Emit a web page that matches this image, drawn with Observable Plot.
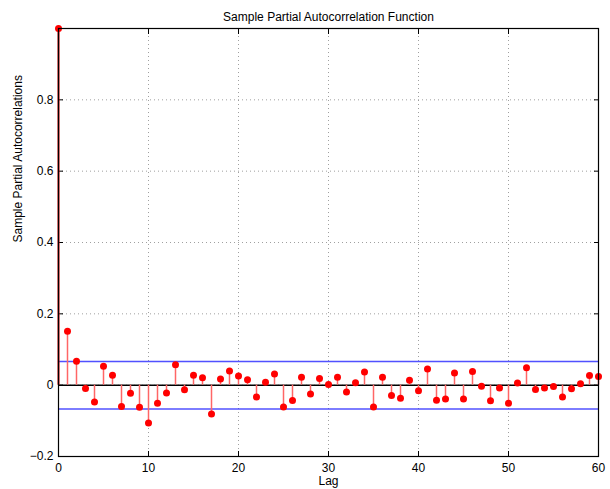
<!DOCTYPE html>
<html><head><meta charset="utf-8">
<script src="https://cdn.jsdelivr.net/npm/d3@7"></script>
<script src="https://cdn.jsdelivr.net/npm/@observablehq/plot@0.6"></script>
<style>
body{margin:0;background:#fff;font-family:"Liberation Sans",Arial,sans-serif;}
#chart{position:relative;width:610px;height:489px;}
</style></head><body><div id="chart"></div>
<script>
const title = "Sample Partial Autocorrelation Function";
const xLabel = "Lag";
const yLabel = "Sample Partial Autocorrelations";
const lags = d3.range(0, 61);
const pacf = [1.0,
  0.151, 0.067, -0.009, -0.047, 0.053, 0.028, -0.060, -0.023, -0.062, -0.106,
  -0.051, -0.022, 0.057, -0.013, 0.028, 0.021, -0.081, 0.017, 0.040, 0.026,
  0.015, -0.033, 0.008, 0.031, -0.061, -0.043, 0.022, -0.025, 0.019, 0.002,
  0.022, -0.019, 0.007, 0.037, -0.061, 0.022, -0.029, -0.037, 0.014, -0.016,
  0.045, -0.042, -0.039, 0.034, -0.039, 0.038, -0.003, -0.044, -0.008, -0.051,
  0.006, 0.049, -0.012, -0.008, -0.004, -0.033, -0.010, 0.004, 0.027, 0.024];
const bound = 0.0667;
const xTicks = [0, 10, 20, 30, 40, 50, 60];
const yTicks = [-0.2, 0, 0.2, 0.4, 0.6, 0.8];
const data = lags.map((l, i) => ({lag: l, v: pacf[i]}));

const chart = Plot.plot({
  width: 610, height: 489,
  marginLeft: 58, marginRight: 12, marginTop: 28, marginBottom: 33,
  style: {fontFamily: "Liberation Sans, Arial, sans-serif", fontSize: "11px", background: "#fff"},
  x: {domain: [0, 60], ticks: xTicks},
  y: {domain: [-0.2, 1], ticks: yTicks},
  marks: [
    Plot.gridX(xTicks.slice(1, -1), {stroke: "#888", strokeOpacity: 0.8, strokeDasharray: "1,3"}),
    Plot.gridY(yTicks.slice(1), {stroke: "#888", strokeOpacity: 0.8, strokeDasharray: "1,3"}),
    Plot.axisX(xTicks, {anchor: "bottom", tickSize: -5, tickPadding: 12, label: null, fontSize: 12, stroke: "#000"}),
    Plot.axisX(xTicks, {anchor: "top", tickSize: -5, tickFormat: () => "", label: null}),
    Plot.axisY(yTicks, {anchor: "left", tickSize: -5, tickPadding: 10, tickFormat: d => d === 0 ? "0" : d3.format(".1f")(d), label: null, fontSize: 12}),
    Plot.axisY(yTicks, {anchor: "right", tickSize: -5, tickFormat: () => "", label: null}),
    Plot.ruleY([bound, -bound], {stroke: "#3333ff", strokeWidth: 1.5, strokeOpacity: 0.85}),
    Plot.ruleY([0], {stroke: "#000", strokeWidth: 1.5}),
    Plot.ruleX(data, {x: "lag", y1: 0, y2: "v", stroke: d => d.lag === 0 ? "#cc0000" : "#ff6666", strokeWidth: d => d.lag === 0 ? 2 : 1.5}),
    Plot.dot(data, {x: "lag", y: "v", r: 3.5, fill: "#ff0000", stroke: "none"}),
    Plot.frame({stroke: "#000", strokeWidth: 1.2}),
    Plot.text([title], {frameAnchor: "top", dy: -16, fontSize: 12, fill: "#000"}),
    Plot.text([xLabel], {frameAnchor: "bottom", dy: 25, lineAnchor: "middle", fontSize: 12, fill: "#000"}),
    Plot.text([yLabel], {frameAnchor: "left", dx: -40, rotate: -90, fontSize: 12, fill: "#000"})
  ]
});
document.getElementById("chart").appendChild(chart);
</script></body></html>
